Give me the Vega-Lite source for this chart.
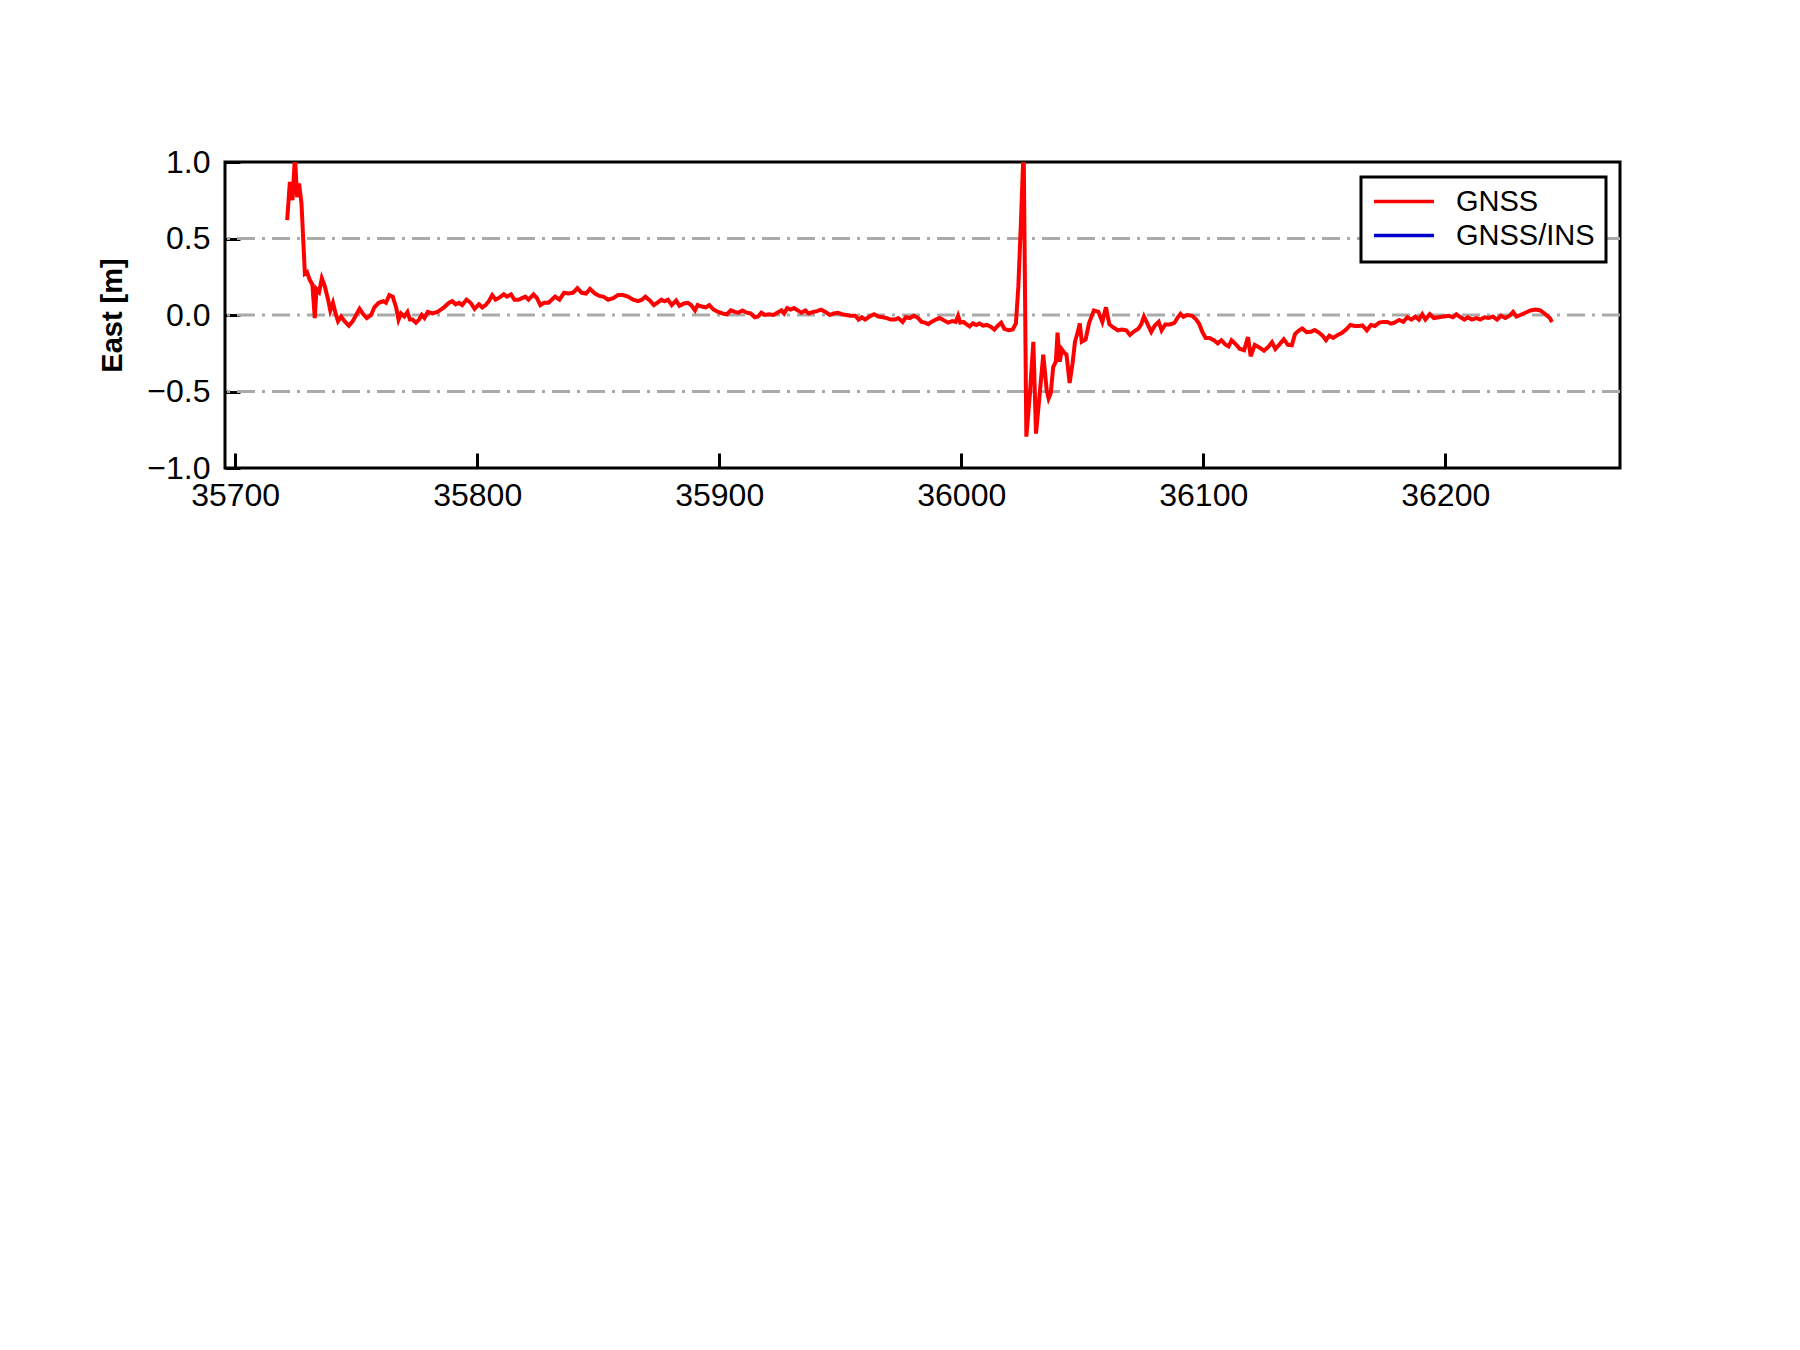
{
  "$schema": "https://vega.github.io/schema/vega-lite/v6.json",
  "autosize": {"type": "none"},
  "padding": {"left": 225, "top": 162, "right": 180, "bottom": 882},
  "width": 1395,
  "height": 306,
  "background": "white",
  "config": {
    "font": "Liberation Sans",
    "view": {"stroke": "black", "strokeWidth": 3}
  },
  "datasets": {
    "grid": [{"g": -0.5}, {"g": 0}, {"g": 0.5}],
    "gnss": [
      {"t": 35721.5, "east": 0.62, "series": "GNSS"},
      {"t": 35722.6, "east": 0.87, "series": "GNSS"},
      {"t": 35723.7, "east": 0.75, "series": "GNSS"},
      {"t": 35724.7, "east": 1.04, "series": "GNSS"},
      {"t": 35725.6, "east": 0.77, "series": "GNSS"},
      {"t": 35726.4, "east": 0.86, "series": "GNSS"},
      {"t": 35727.4, "east": 0.73, "series": "GNSS"},
      {"t": 35728.8, "east": 0.27, "series": "GNSS"},
      {"t": 35729.7, "east": 0.28, "series": "GNSS"},
      {"t": 35730.8, "east": 0.23, "series": "GNSS"},
      {"t": 35731.9, "east": 0.20, "series": "GNSS"},
      {"t": 35732.9, "east": -0.02, "series": "GNSS"},
      {"t": 35733.6, "east": 0.17, "series": "GNSS"},
      {"t": 35734.7, "east": 0.15, "series": "GNSS"},
      {"t": 35735.8, "east": 0.24, "series": "GNSS"},
      {"t": 35737.0, "east": 0.19, "series": "GNSS"},
      {"t": 35738.4, "east": 0.10, "series": "GNSS"},
      {"t": 35739.3, "east": 0.03, "series": "GNSS"},
      {"t": 35740.4, "east": 0.08, "series": "GNSS"},
      {"t": 35741.5, "east": 0.01, "series": "GNSS"},
      {"t": 35742.5, "east": -0.04, "series": "GNSS"},
      {"t": 35743.8, "east": -0.01, "series": "GNSS"},
      {"t": 35745.2, "east": -0.04, "series": "GNSS"},
      {"t": 35747.0, "east": -0.07, "series": "GNSS"},
      {"t": 35748.6, "east": -0.04, "series": "GNSS"},
      {"t": 35750.0, "east": 0.0, "series": "GNSS"},
      {"t": 35751.4, "east": 0.04, "series": "GNSS"},
      {"t": 35752.7, "east": 0.01, "series": "GNSS"},
      {"t": 35754.4, "east": -0.02, "series": "GNSS"},
      {"t": 35756.2, "east": 0.0, "series": "GNSS"},
      {"t": 35757.5, "east": 0.05, "series": "GNSS"},
      {"t": 35759.3, "east": 0.08, "series": "GNSS"},
      {"t": 35761.2, "east": 0.09, "series": "GNSS"},
      {"t": 35762.3, "east": 0.08, "series": "GNSS"},
      {"t": 35763.7, "east": 0.13, "series": "GNSS"},
      {"t": 35765.1, "east": 0.12, "series": "GNSS"},
      {"t": 35766.5, "east": 0.05, "series": "GNSS"},
      {"t": 35767.5, "east": -0.03, "series": "GNSS"},
      {"t": 35768.5, "east": 0.01, "series": "GNSS"},
      {"t": 35769.9, "east": -0.01, "series": "GNSS"},
      {"t": 35771.2, "east": 0.02, "series": "GNSS"},
      {"t": 35772.2, "east": -0.03, "series": "GNSS"},
      {"t": 35773.3, "east": -0.03, "series": "GNSS"},
      {"t": 35774.7, "east": -0.05, "series": "GNSS"},
      {"t": 35776.0, "east": -0.03, "series": "GNSS"},
      {"t": 35777.1, "east": 0.0, "series": "GNSS"},
      {"t": 35778.2, "east": -0.02, "series": "GNSS"},
      {"t": 35779.6, "east": 0.02, "series": "GNSS"},
      {"t": 35781.5, "east": 0.01, "series": "GNSS"},
      {"t": 35783.6, "east": 0.02, "series": "GNSS"},
      {"t": 35786.3, "east": 0.05, "series": "GNSS"},
      {"t": 35788.4, "east": 0.08, "series": "GNSS"},
      {"t": 35789.7, "east": 0.09, "series": "GNSS"},
      {"t": 35791.1, "east": 0.07, "series": "GNSS"},
      {"t": 35792.5, "east": 0.08, "series": "GNSS"},
      {"t": 35793.8, "east": 0.065, "series": "GNSS"},
      {"t": 35795.6, "east": 0.10, "series": "GNSS"},
      {"t": 35797.3, "east": 0.08, "series": "GNSS"},
      {"t": 35798.9, "east": 0.04, "series": "GNSS"},
      {"t": 35800.7, "east": 0.07, "series": "GNSS"},
      {"t": 35802.1, "east": 0.05, "series": "GNSS"},
      {"t": 35803.5, "east": 0.065, "series": "GNSS"},
      {"t": 35804.8, "east": 0.09, "series": "GNSS"},
      {"t": 35806.2, "east": 0.13, "series": "GNSS"},
      {"t": 35807.6, "east": 0.10, "series": "GNSS"},
      {"t": 35809.3, "east": 0.115, "series": "GNSS"},
      {"t": 35811.0, "east": 0.135, "series": "GNSS"},
      {"t": 35812.3, "east": 0.12, "series": "GNSS"},
      {"t": 35814.0, "east": 0.135, "series": "GNSS"},
      {"t": 35815.4, "east": 0.10, "series": "GNSS"},
      {"t": 35817.1, "east": 0.10, "series": "GNSS"},
      {"t": 35818.5, "east": 0.11, "series": "GNSS"},
      {"t": 35819.9, "east": 0.12, "series": "GNSS"},
      {"t": 35821.2, "east": 0.10, "series": "GNSS"},
      {"t": 35823.3, "east": 0.135, "series": "GNSS"},
      {"t": 35824.7, "east": 0.11, "series": "GNSS"},
      {"t": 35826.1, "east": 0.065, "series": "GNSS"},
      {"t": 35827.7, "east": 0.08, "series": "GNSS"},
      {"t": 35829.5, "east": 0.08, "series": "GNSS"},
      {"t": 35830.8, "east": 0.10, "series": "GNSS"},
      {"t": 35832.2, "east": 0.12, "series": "GNSS"},
      {"t": 35834.0, "east": 0.10, "series": "GNSS"},
      {"t": 35835.9, "east": 0.145, "series": "GNSS"},
      {"t": 35837.7, "east": 0.14, "series": "GNSS"},
      {"t": 35839.5, "east": 0.145, "series": "GNSS"},
      {"t": 35841.4, "east": 0.175, "series": "GNSS"},
      {"t": 35843.2, "east": 0.145, "series": "GNSS"},
      {"t": 35845.0, "east": 0.14, "series": "GNSS"},
      {"t": 35846.6, "east": 0.17, "series": "GNSS"},
      {"t": 35848.7, "east": 0.14, "series": "GNSS"},
      {"t": 35850.4, "east": 0.125, "series": "GNSS"},
      {"t": 35852.1, "east": 0.12, "series": "GNSS"},
      {"t": 35854.1, "east": 0.10, "series": "GNSS"},
      {"t": 35856.2, "east": 0.11, "series": "GNSS"},
      {"t": 35858.2, "east": 0.13, "series": "GNSS"},
      {"t": 35860.3, "east": 0.13, "series": "GNSS"},
      {"t": 35862.3, "east": 0.12, "series": "GNSS"},
      {"t": 35864.4, "east": 0.10, "series": "GNSS"},
      {"t": 35866.5, "east": 0.09, "series": "GNSS"},
      {"t": 35868.1, "east": 0.10, "series": "GNSS"},
      {"t": 35869.5, "east": 0.12, "series": "GNSS"},
      {"t": 35871.3, "east": 0.095, "series": "GNSS"},
      {"t": 35873.0, "east": 0.065, "series": "GNSS"},
      {"t": 35874.4, "east": 0.08, "series": "GNSS"},
      {"t": 35876.1, "east": 0.10, "series": "GNSS"},
      {"t": 35877.4, "east": 0.09, "series": "GNSS"},
      {"t": 35878.8, "east": 0.10, "series": "GNSS"},
      {"t": 35880.4, "east": 0.065, "series": "GNSS"},
      {"t": 35882.2, "east": 0.095, "series": "GNSS"},
      {"t": 35883.6, "east": 0.06, "series": "GNSS"},
      {"t": 35885.4, "east": 0.075, "series": "GNSS"},
      {"t": 35887.0, "east": 0.08, "series": "GNSS"},
      {"t": 35888.4, "east": 0.065, "series": "GNSS"},
      {"t": 35890.0, "east": 0.03, "series": "GNSS"},
      {"t": 35891.1, "east": 0.065, "series": "GNSS"},
      {"t": 35892.8, "east": 0.055, "series": "GNSS"},
      {"t": 35894.5, "east": 0.05, "series": "GNSS"},
      {"t": 35895.9, "east": 0.065, "series": "GNSS"},
      {"t": 35897.7, "east": 0.035, "series": "GNSS"},
      {"t": 35899.6, "east": 0.02, "series": "GNSS"},
      {"t": 35901.4, "east": 0.01, "series": "GNSS"},
      {"t": 35903.2, "east": 0.005, "series": "GNSS"},
      {"t": 35904.8, "east": 0.03, "series": "GNSS"},
      {"t": 35906.5, "east": 0.02, "series": "GNSS"},
      {"t": 35907.9, "east": 0.015, "series": "GNSS"},
      {"t": 35909.6, "east": 0.03, "series": "GNSS"},
      {"t": 35911.4, "east": 0.015, "series": "GNSS"},
      {"t": 35913.0, "east": 0.01, "series": "GNSS"},
      {"t": 35914.7, "east": -0.015, "series": "GNSS"},
      {"t": 35916.1, "east": -0.01, "series": "GNSS"},
      {"t": 35917.4, "east": 0.015, "series": "GNSS"},
      {"t": 35918.8, "east": 0.0, "series": "GNSS"},
      {"t": 35920.6, "east": 0.005, "series": "GNSS"},
      {"t": 35922.4, "east": 0.0, "series": "GNSS"},
      {"t": 35924.0, "east": 0.015, "series": "GNSS"},
      {"t": 35925.7, "east": 0.03, "series": "GNSS"},
      {"t": 35926.8, "east": 0.01, "series": "GNSS"},
      {"t": 35928.1, "east": 0.045, "series": "GNSS"},
      {"t": 35929.5, "east": 0.035, "series": "GNSS"},
      {"t": 35930.9, "east": 0.045, "series": "GNSS"},
      {"t": 35932.5, "east": 0.03, "series": "GNSS"},
      {"t": 35933.9, "east": 0.015, "series": "GNSS"},
      {"t": 35935.6, "east": 0.03, "series": "GNSS"},
      {"t": 35937.0, "east": 0.01, "series": "GNSS"},
      {"t": 35938.8, "east": 0.02, "series": "GNSS"},
      {"t": 35940.4, "east": 0.025, "series": "GNSS"},
      {"t": 35942.1, "east": 0.035, "series": "GNSS"},
      {"t": 35943.9, "east": 0.02, "series": "GNSS"},
      {"t": 35945.7, "east": 0.0, "series": "GNSS"},
      {"t": 35947.3, "east": 0.01, "series": "GNSS"},
      {"t": 35949.0, "east": 0.015, "series": "GNSS"},
      {"t": 35950.7, "east": 0.005, "series": "GNSS"},
      {"t": 35952.5, "east": 0.0, "series": "GNSS"},
      {"t": 35954.1, "east": -0.005, "series": "GNSS"},
      {"t": 35956.2, "east": -0.005, "series": "GNSS"},
      {"t": 35957.6, "east": -0.03, "series": "GNSS"},
      {"t": 35958.9, "east": -0.015, "series": "GNSS"},
      {"t": 35960.3, "east": -0.03, "series": "GNSS"},
      {"t": 35962.1, "east": -0.01, "series": "GNSS"},
      {"t": 35964.0, "east": 0.005, "series": "GNSS"},
      {"t": 35965.8, "east": -0.01, "series": "GNSS"},
      {"t": 35967.6, "east": -0.015, "series": "GNSS"},
      {"t": 35969.2, "east": -0.02, "series": "GNSS"},
      {"t": 35970.9, "east": -0.03, "series": "GNSS"},
      {"t": 35972.6, "east": -0.03, "series": "GNSS"},
      {"t": 35974.0, "east": -0.02, "series": "GNSS"},
      {"t": 35975.8, "east": -0.045, "series": "GNSS"},
      {"t": 35977.1, "east": -0.015, "series": "GNSS"},
      {"t": 35978.8, "east": -0.02, "series": "GNSS"},
      {"t": 35980.4, "east": -0.005, "series": "GNSS"},
      {"t": 35982.2, "east": -0.02, "series": "GNSS"},
      {"t": 35983.6, "east": -0.045, "series": "GNSS"},
      {"t": 35985.0, "east": -0.05, "series": "GNSS"},
      {"t": 35986.4, "east": -0.06, "series": "GNSS"},
      {"t": 35987.7, "east": -0.045, "series": "GNSS"},
      {"t": 35989.5, "east": -0.03, "series": "GNSS"},
      {"t": 35991.1, "east": -0.02, "series": "GNSS"},
      {"t": 35992.8, "east": -0.035, "series": "GNSS"},
      {"t": 35994.6, "east": -0.05, "series": "GNSS"},
      {"t": 35996.3, "east": -0.04, "series": "GNSS"},
      {"t": 35997.7, "east": -0.045, "series": "GNSS"},
      {"t": 35998.7, "east": -0.005, "series": "GNSS"},
      {"t": 35999.6, "east": -0.05, "series": "GNSS"},
      {"t": 36001.0, "east": -0.045, "series": "GNSS"},
      {"t": 36002.1, "east": -0.06, "series": "GNSS"},
      {"t": 36003.5, "east": -0.075, "series": "GNSS"},
      {"t": 36004.8, "east": -0.055, "series": "GNSS"},
      {"t": 36006.2, "east": -0.065, "series": "GNSS"},
      {"t": 36007.6, "east": -0.055, "series": "GNSS"},
      {"t": 36009.0, "east": -0.07, "series": "GNSS"},
      {"t": 36010.6, "east": -0.065, "series": "GNSS"},
      {"t": 36012.0, "east": -0.075, "series": "GNSS"},
      {"t": 36013.7, "east": -0.095, "series": "GNSS"},
      {"t": 36015.1, "east": -0.07, "series": "GNSS"},
      {"t": 36016.5, "east": -0.05, "series": "GNSS"},
      {"t": 36017.8, "east": -0.09, "series": "GNSS"},
      {"t": 36019.6, "east": -0.10, "series": "GNSS"},
      {"t": 36021.3, "east": -0.095, "series": "GNSS"},
      {"t": 36022.6, "east": -0.055, "series": "GNSS"},
      {"t": 36023.6, "east": 0.185, "series": "GNSS"},
      {"t": 36024.6, "east": 0.58, "series": "GNSS"},
      {"t": 36025.8, "east": 1.1, "series": "GNSS"},
      {"t": 36026.9, "east": -0.795, "series": "GNSS"},
      {"t": 36028.4, "east": -0.51, "series": "GNSS"},
      {"t": 36029.8, "east": -0.175, "series": "GNSS"},
      {"t": 36030.9, "east": -0.775, "series": "GNSS"},
      {"t": 36032.2, "east": -0.555, "series": "GNSS"},
      {"t": 36033.9, "east": -0.26, "series": "GNSS"},
      {"t": 36035.3, "east": -0.49, "series": "GNSS"},
      {"t": 36036.1, "east": -0.545, "series": "GNSS"},
      {"t": 36037.0, "east": -0.51, "series": "GNSS"},
      {"t": 36038.0, "east": -0.34, "series": "GNSS"},
      {"t": 36039.1, "east": -0.305, "series": "GNSS"},
      {"t": 36039.8, "east": -0.115, "series": "GNSS"},
      {"t": 36040.7, "east": -0.305, "series": "GNSS"},
      {"t": 36041.6, "east": -0.225, "series": "GNSS"},
      {"t": 36042.5, "east": -0.245, "series": "GNSS"},
      {"t": 36043.5, "east": -0.26, "series": "GNSS"},
      {"t": 36044.8, "east": -0.445, "series": "GNSS"},
      {"t": 36046.0, "east": -0.315, "series": "GNSS"},
      {"t": 36047.0, "east": -0.175, "series": "GNSS"},
      {"t": 36048.0, "east": -0.12, "series": "GNSS"},
      {"t": 36049.0, "east": -0.055, "series": "GNSS"},
      {"t": 36049.8, "east": -0.175, "series": "GNSS"},
      {"t": 36051.4, "east": -0.16, "series": "GNSS"},
      {"t": 36052.8, "east": -0.055, "series": "GNSS"},
      {"t": 36054.8, "east": 0.03, "series": "GNSS"},
      {"t": 36056.7, "east": 0.02, "series": "GNSS"},
      {"t": 36058.3, "east": -0.045, "series": "GNSS"},
      {"t": 36059.8, "east": 0.05, "series": "GNSS"},
      {"t": 36061.2, "east": -0.06, "series": "GNSS"},
      {"t": 36062.7, "east": -0.08, "series": "GNSS"},
      {"t": 36064.7, "east": -0.10, "series": "GNSS"},
      {"t": 36066.5, "east": -0.095, "series": "GNSS"},
      {"t": 36068.2, "east": -0.10, "series": "GNSS"},
      {"t": 36069.7, "east": -0.13, "series": "GNSS"},
      {"t": 36071.6, "east": -0.105, "series": "GNSS"},
      {"t": 36073.2, "east": -0.09, "series": "GNSS"},
      {"t": 36074.4, "east": -0.06, "series": "GNSS"},
      {"t": 36075.5, "east": -0.01, "series": "GNSS"},
      {"t": 36077.0, "east": -0.06, "series": "GNSS"},
      {"t": 36078.5, "east": -0.11, "series": "GNSS"},
      {"t": 36080.0, "east": -0.068, "series": "GNSS"},
      {"t": 36081.6, "east": -0.045, "series": "GNSS"},
      {"t": 36082.8, "east": -0.10, "series": "GNSS"},
      {"t": 36084.3, "east": -0.062, "series": "GNSS"},
      {"t": 36086.2, "east": -0.062, "series": "GNSS"},
      {"t": 36088.1, "east": -0.052, "series": "GNSS"},
      {"t": 36089.3, "east": -0.02, "series": "GNSS"},
      {"t": 36090.6, "east": 0.008, "series": "GNSS"},
      {"t": 36091.8, "east": -0.012, "series": "GNSS"},
      {"t": 36093.4, "east": 0.0, "series": "GNSS"},
      {"t": 36095.4, "east": -0.005, "series": "GNSS"},
      {"t": 36097.1, "east": -0.03, "series": "GNSS"},
      {"t": 36098.4, "east": -0.06, "series": "GNSS"},
      {"t": 36099.6, "east": -0.11, "series": "GNSS"},
      {"t": 36101.0, "east": -0.15, "series": "GNSS"},
      {"t": 36102.6, "east": -0.15, "series": "GNSS"},
      {"t": 36104.4, "east": -0.165, "series": "GNSS"},
      {"t": 36106.0, "east": -0.185, "series": "GNSS"},
      {"t": 36107.5, "east": -0.165, "series": "GNSS"},
      {"t": 36109.1, "east": -0.192, "series": "GNSS"},
      {"t": 36110.5, "east": -0.205, "series": "GNSS"},
      {"t": 36111.7, "east": -0.165, "series": "GNSS"},
      {"t": 36113.4, "east": -0.19, "series": "GNSS"},
      {"t": 36115.0, "east": -0.22, "series": "GNSS"},
      {"t": 36116.9, "east": -0.23, "series": "GNSS"},
      {"t": 36118.5, "east": -0.145, "series": "GNSS"},
      {"t": 36119.6, "east": -0.27, "series": "GNSS"},
      {"t": 36121.3, "east": -0.195, "series": "GNSS"},
      {"t": 36123.0, "east": -0.21, "series": "GNSS"},
      {"t": 36125.1, "east": -0.233, "series": "GNSS"},
      {"t": 36126.8, "east": -0.21, "series": "GNSS"},
      {"t": 36128.4, "east": -0.178, "series": "GNSS"},
      {"t": 36129.8, "east": -0.222, "series": "GNSS"},
      {"t": 36131.6, "east": -0.19, "series": "GNSS"},
      {"t": 36133.3, "east": -0.158, "series": "GNSS"},
      {"t": 36135.0, "east": -0.195, "series": "GNSS"},
      {"t": 36136.6, "east": -0.198, "series": "GNSS"},
      {"t": 36137.9, "east": -0.125, "series": "GNSS"},
      {"t": 36139.6, "east": -0.10, "series": "GNSS"},
      {"t": 36140.9, "east": -0.088, "series": "GNSS"},
      {"t": 36142.7, "east": -0.112, "series": "GNSS"},
      {"t": 36144.5, "east": -0.11, "series": "GNSS"},
      {"t": 36146.0, "east": -0.098, "series": "GNSS"},
      {"t": 36147.8, "east": -0.115, "series": "GNSS"},
      {"t": 36149.3, "east": -0.135, "series": "GNSS"},
      {"t": 36150.7, "east": -0.165, "series": "GNSS"},
      {"t": 36152.1, "east": -0.135, "series": "GNSS"},
      {"t": 36153.7, "east": -0.15, "series": "GNSS"},
      {"t": 36155.4, "east": -0.132, "series": "GNSS"},
      {"t": 36157.2, "east": -0.118, "series": "GNSS"},
      {"t": 36159.0, "east": -0.095, "series": "GNSS"},
      {"t": 36160.8, "east": -0.065, "series": "GNSS"},
      {"t": 36162.6, "east": -0.072, "series": "GNSS"},
      {"t": 36164.3, "east": -0.072, "series": "GNSS"},
      {"t": 36165.8, "east": -0.068, "series": "GNSS"},
      {"t": 36167.6, "east": -0.10, "series": "GNSS"},
      {"t": 36169.3, "east": -0.065, "series": "GNSS"},
      {"t": 36170.9, "east": -0.072, "series": "GNSS"},
      {"t": 36172.7, "east": -0.05, "series": "GNSS"},
      {"t": 36174.4, "east": -0.045, "series": "GNSS"},
      {"t": 36176.1, "east": -0.045, "series": "GNSS"},
      {"t": 36177.6, "east": -0.057, "series": "GNSS"},
      {"t": 36179.0, "east": -0.05, "series": "GNSS"},
      {"t": 36180.9, "east": -0.032, "series": "GNSS"},
      {"t": 36182.7, "east": -0.045, "series": "GNSS"},
      {"t": 36184.3, "east": -0.015, "series": "GNSS"},
      {"t": 36186.0, "east": -0.03, "series": "GNSS"},
      {"t": 36187.7, "east": -0.01, "series": "GNSS"},
      {"t": 36189.1, "east": -0.03, "series": "GNSS"},
      {"t": 36190.5, "east": 0.005, "series": "GNSS"},
      {"t": 36191.8, "east": -0.03, "series": "GNSS"},
      {"t": 36193.6, "east": 0.005, "series": "GNSS"},
      {"t": 36195.3, "east": -0.02, "series": "GNSS"},
      {"t": 36197.3, "east": -0.015, "series": "GNSS"},
      {"t": 36199.4, "east": -0.01, "series": "GNSS"},
      {"t": 36201.5, "east": -0.005, "series": "GNSS"},
      {"t": 36203.2, "east": -0.015, "series": "GNSS"},
      {"t": 36204.6, "east": 0.005, "series": "GNSS"},
      {"t": 36206.3, "east": -0.015, "series": "GNSS"},
      {"t": 36207.9, "east": -0.03, "series": "GNSS"},
      {"t": 36209.3, "east": -0.015, "series": "GNSS"},
      {"t": 36211.0, "east": -0.03, "series": "GNSS"},
      {"t": 36212.9, "east": -0.02, "series": "GNSS"},
      {"t": 36214.5, "east": -0.03, "series": "GNSS"},
      {"t": 36216.2, "east": -0.015, "series": "GNSS"},
      {"t": 36217.9, "east": -0.02, "series": "GNSS"},
      {"t": 36219.7, "east": -0.01, "series": "GNSS"},
      {"t": 36221.4, "east": -0.03, "series": "GNSS"},
      {"t": 36223.0, "east": -0.005, "series": "GNSS"},
      {"t": 36224.8, "east": -0.02, "series": "GNSS"},
      {"t": 36226.6, "east": -0.005, "series": "GNSS"},
      {"t": 36228.0, "east": 0.02, "series": "GNSS"},
      {"t": 36229.4, "east": -0.01, "series": "GNSS"},
      {"t": 36231.0, "east": 0.0, "series": "GNSS"},
      {"t": 36233.1, "east": 0.015, "series": "GNSS"},
      {"t": 36235.2, "east": 0.03, "series": "GNSS"},
      {"t": 36237.3, "east": 0.035, "series": "GNSS"},
      {"t": 36239.3, "east": 0.03, "series": "GNSS"},
      {"t": 36241.4, "east": 0.005, "series": "GNSS"},
      {"t": 36243.2, "east": -0.02, "series": "GNSS"},
      {"t": 36244.1, "east": -0.045, "series": "GNSS"}
    ]
  },
  "layer": [
    {
      "data": {"name": "grid"},
      "mark": {"type": "rule", "color": "#aaaaaa", "strokeWidth": 3, "strokeDash": [18, 7, 3, 7]},
      "encoding": {
        "y": {"field": "g", "type": "quantitative", "scale": {"domain": [-1, 1], "nice": false, "zero": false}}
      }
    },
    {
      "data": {"name": "gnss"},
      "mark": {"type": "line", "strokeWidth": 4, "clip": true},
      "encoding": {
        "x": {
          "field": "t", "type": "quantitative",
          "scale": {"domain": [35695.8, 36272.2], "nice": false, "zero": false},
          "axis": {
            "title": null, "values": [35700, 35800, 35900, 36000, 36100, 36200], "format": "d",
            "grid": false, "domain": false, "tickSize": -15, "tickWidth": 3, "tickColor": "black",
            "labelFontSize": 32, "labelColor": "black", "labelPadding": 27, "labelFlush": false, "labelOverlap": false
          }
        },
        "y": {
          "field": "east", "type": "quantitative",
          "scale": {"domain": [-1, 1], "nice": false, "zero": false},
          "axis": {
            "title": "East [m]", "values": [-1, -0.5, 0, 0.5, 1],
            "labelExpr": "replace(format(datum.value, '.1f'), '-', '\u2212')",
            "grid": false, "domain": false, "tickSize": -15, "tickWidth": 3, "tickColor": "black",
            "labelFontSize": 32, "labelColor": "black", "labelPadding": 30, "labelOverlap": false,
            "titleFontSize": 29, "titleFontWeight": "bold", "titleColor": "black",
            "titleAngle": -90, "titleX": -104, "titleY": 153, "titleBaseline": "alphabetic", "titleAlign": "center"
          }
        },
        "color": {
          "field": "series", "type": "nominal",
          "scale": {"domain": ["GNSS", "GNSS/INS"], "range": ["#ff0000", "#0000cc"]},
          "legend": {
            "title": null, "orient": "none", "legendX": 1136, "legendY": 15,
            "strokeColor": "black", "fillColor": "white", "padding": 11,
            "symbolType": "stroke", "symbolSize": 3600, "symbolStrokeWidth": 3.5,
            "clipHeight": 27,
            "labelFontSize": 29, "labelColor": "black", "labelOffset": 20, "rowPadding": 4,
            "encode": {"legend": {"update": {"strokeWidth": {"value": 3}}}}
          }
        }
      }
    }
  ]
}
